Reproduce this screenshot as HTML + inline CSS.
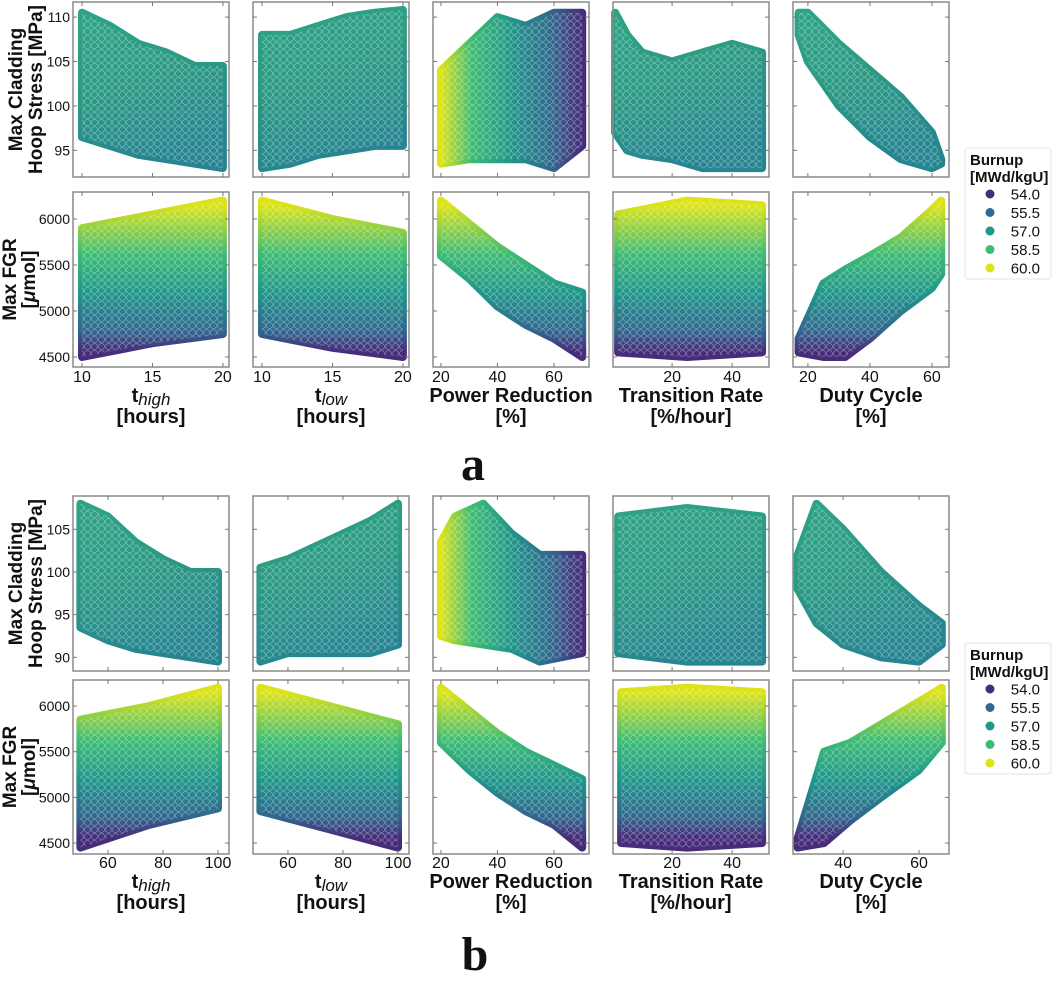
<!DOCTYPE html>
<html><head><meta charset="utf-8"><style>
body{margin:0;background:#fff;}
svg text{font-family:"Liberation Sans",sans-serif;}
svg text.serif{font-family:"Liberation Serif",serif;}
</style></head><body>
<svg id="fig" width="1052" height="979" viewBox="0 0 1052 979" xmlns="http://www.w3.org/2000/svg">
<defs>
<pattern id="dots" width="7" height="7" patternUnits="userSpaceOnUse">
<circle cx="3.5" cy="3.5" r="3" fill="none" stroke="#ffffff" stroke-opacity="0.35" stroke-width="0.8"/>
</pattern>
</defs>
</svg>
<script>
// ---------- data ----------
const burnupLevels = ["54.0","55.5","57.0","58.5","60.0"];
const burnupColors = ["#472c7a","#31688e","#1f968b","#3dbc74","#dde318"];

const xTitlesA = [["t","high","[hours]"],["t","low","[hours]"],["Power Reduction","","[%]"],["Transition Rate","","[%/hour]"],["Duty Cycle","","[%]"]];
const xTicksA = [[10,15,20],[10,15,20],[20,40,60],[20,40],[20,40,60]];
const xTicksB = [[60,80,100],[60,80,100],[20,40,60],[20,40],[40,60]];
const xDomA = [[9.36,20.43],[9.36,20.43],[17.2,72.4],[0.3,52.3],[15.2,65.5]];
const xDomB = [[47.3,104],[47.3,104],[17.2,72.4],[0.3,52.3],[26.8,67.9]];
const stressTicksA = [95,100,105,110];
const stressTicksB = [90,95,100,105];
const fgrTicks = [4500,5000,5500,6000];
const stressDomA = [92,111.7];
const stressDomB = [88.4,108.9];
const fgrDomA = [4391,6293];
const fgrDomB = [4380,6285];

// cloud envelopes: x knots, upper and lower bound
const a1x=[10,12,14,16,18,20], a1t=[110.5,109,107,106,104.5,104.5], a1b=[96.5,95.5,94.5,94,93.5,93];
const a2x=[10,12,14,16,18,20], a2t=[108,108,109,110,110.5,110.8], a2b=[93,93.5,94.5,95,95.5,95.5];
const a3x=[20,30,40,50,60,70], a3t=[104,107,110,109,110.5,110.5], a3b=[93.5,94,94,94,93,95.5];
const a4x=[1,5,10,20,30,40,50], a4t=[110.5,108,106,105,106,107,106], a4b=[97,95,94.5,94,93,93,93];
const a5x=[17,20,30,40,50,60,63], a5t=[110.5,110.5,107,104,101,97,94], a5b=[108,105,100,96.5,94,93,93.5];
const a6x=[10,15,20], a6t=[5900,6050,6200], a6b=[4500,4650,4750];
const a7x=[10,15,20], a7t=[6200,6000,5850], a7b=[4750,4600,4500];
const a8x=[20,30,40,50,60,70], a8t=[6200,5950,5700,5500,5300,5200], a8b=[5600,5350,5050,4850,4700,4500];
const a9x=[2,25,50], a9t=[6050,6200,6150], a9b=[4550,4500,4550];
const a10x=[17,25,32,40,50,60,63], a10t=[4700,5300,5450,5600,5800,6100,6200], a10b=[4550,4500,4500,4700,5000,5250,5400];

const b1x=[50,60,70,80,90,100], b1t=[108,106.5,103.5,101.5,100,100], b1b=[93.5,92,91,90.5,90,89.5];
const b2x=[50,60,70,80,90,100], b2t=[100.5,101.5,103,104.5,106,108], b2b=[89.5,90.5,90.5,90.5,90.5,91.5];
const b3x=[20,25,35,45,55,70], b3t=[103.5,106.5,108,104.5,102,102], b3b=[92.5,92,91.5,91,89.5,90.5];
const b4x=[2,25,50], b4t=[106.5,107.5,106.5], b4b=[90.5,89.5,89.5];
const b5x=[28,33,40,50,60,66], b5t=[102,108,105,100,96,94], b5b=[98,94,91.5,90,89.5,91.5];
const b6x=[50,75,100], b6t=[5850,6000,6200], b6b=[4450,4700,4880];
const b7x=[50,75,100], b7t=[6200,6000,5800], b7b=[4850,4650,4450];
const b8x=[20,30,40,50,60,70], b8t=[6200,5950,5700,5500,5350,5200], b8b=[5600,5300,5050,4850,4700,4450];
const b9x=[3,25,50], b9t=[6150,6200,6150], b9b=[4500,4450,4500];
const b10x=[28,35,42,50,60,66], b10t=[4550,5500,5600,5800,6050,6200], b10b=[4450,4500,4750,5000,5300,5600];

// ---------- layout ----------
const NS="http://www.w3.org/2000/svg";
const svg=document.getElementById('fig');
const defs=svg.querySelector('defs');
const colX=[73,253,433,613,793], PW=156;
let gid=0;
function mk(tag,attrs,parent){const e=document.createElementNS(NS,tag);for(const k in attrs)e.setAttribute(k,attrs[k]);(parent||svg).appendChild(e);return e;}
function lin(d,r){return v=>r[0]+(v-d[0])/(d[1]-d[0])*(r[1]-r[0]);}

function panel(fig,row,col,top,h,xd,yd,xs,ts,bs,mode){
  const L=colX[col],R=L+PW,B=top+h;
  const sx=lin(xd,[L,R]), sy=lin(yd,[B,top]);
  const g=mk('g',{});
  
  
  const id='gr'+(gid++);
  let gr;
  if(mode==='v'){
    gr=mk('linearGradient',{id:id,gradientUnits:'userSpaceOnUse',x1:0,x2:0,y1:sy(6150),y2:sy(4550)},defs);
    const st=[[0,4],[0.33,3],[0.6,2],[0.85,1],[1,0]];
    st.forEach(s=>mk('stop',{offset:s[0],'stop-color':burnupColors[s[1]]},gr));
  } else if(mode==='h'){
    gr=mk('linearGradient',{id:id,gradientUnits:'userSpaceOnUse',y1:0,y2:0,x1:sx(20),x2:sx(70)},defs);
    const st=[[0,4],[0.22,3],[0.5,2],[0.78,1],[1,0]];
    st.forEach(s=>mk('stop',{offset:s[0],'stop-color':burnupColors[s[1]]},gr));
  } else {
    gr=mk('linearGradient',{id:id,x1:0,x2:0.3,y1:0,y2:1},defs);
    mk('stop',{offset:0,'stop-color':'#2ea386'},gr);
    mk('stop',{offset:0.5,'stop-color':'#2b9a83'},gr);
    mk('stop',{offset:1,'stop-color':'#268591'},gr);
  }
  let d='';
  xs.forEach((x,i)=>{d+=(i?'L':'M')+sx(x).toFixed(1)+','+sy(ts[i]).toFixed(1);});
  for(let i=xs.length-1;i>=0;i--) d+='L'+sx(xs[i]).toFixed(1)+','+sy(bs[i]).toFixed(1);
  d+='Z';
  const cloud=mk('path',{d:d,fill:'url(#'+id+')',stroke:'url(#'+id+')','stroke-width':8,'stroke-linejoin':'round'},g);
  
  
  mk('path',{d:d,fill:'url(#dots)',stroke:'none'},g);
  const fr=mk('rect',{x:L,y:top,width:PW,height:h,fill:'none',stroke:'#8a8a8a','stroke-width':1.5},g);
  
  
  return {g,sx,sy,L,R,top,B};
}

function ticks(p,xt,yt,showY){
  xt.forEach(v=>{const x=p.sx(v);
    mk('line',{x1:x,x2:x,y1:p.B,y2:p.B-4,stroke:'#777'},p.g);
    mk('line',{x1:x,x2:x,y1:p.top,y2:p.top+4,stroke:'#777'},p.g);});
  yt.forEach(v=>{const y=p.sy(v);
    mk('line',{x1:p.L,x2:p.L+4,y1:y,y2:y,stroke:'#777'},p.g);
    mk('line',{x1:p.R,x2:p.R-4,y1:y,y2:y,stroke:'#777'},p.g);
    if(showY){const t=mk('text',{x:p.L-3,y:y+5,'text-anchor':'end','font-size':14,fill:'#111'},p.g);t.textContent=v;
      
      }
  });
}

function figure(fig,rows,xDom,xTicks,sTicks,sDom,fDom,stressSets,fgrSets,tickY,titleY){
  const modesS=['m','m','h','m','m'];
  stressSets.forEach((s,c)=>{const p=panel(fig,0,c,rows[0],rows[1],xDom[c],sDom,s[0],s[1],s[2],modesS[c]);ticks(p,xTicks[c],sTicks,c===0);});
  fgrSets.forEach((s,c)=>{const p=panel(fig,1,c,rows[2],rows[3],xDom[c],fDom,s[0],s[1],s[2],'v');ticks(p,xTicks[c],fgrTicks,c===0);
    xTicks[c].forEach(v=>{const t=mk('text',{x:p.sx(v),y:tickY,'text-anchor':'middle','font-size':16,fill:'#111'});t.textContent=v;
      
      });
    const tt=xTitlesA[c];const cx=colX[c]+PW/2;
    const t1=mk('text',{x:cx,y:titleY,'text-anchor':'middle','font-size':20,'font-weight':'bold',fill:'#111'});
    
    
    t1.textContent=tt[0];
    if(tt[1]){const sp=mk('tspan',{'font-style':'italic','font-weight':'normal','font-size':17,dy:3},t1);sp.textContent=tt[1];}
    const t2=mk('text',{x:cx,y:titleY+21,'text-anchor':'middle','font-size':20,'font-weight':'bold',fill:'#111'});
    
    
    t2.textContent=tt[2];
  });
  // y titles
  const ys=[[rows[0]+rows[1]/2,'Max Cladding','Hoop Stress [MPa]',22,42],[rows[2]+rows[3]/2,'Max FGR','[\u03bcmol]',16,35]];
  ys.forEach((y,i)=>{
    [[y[1],y[3]],[y[2],y[4]]].forEach((l,j)=>{
      const t=mk('text',{x:0,y:0,transform:'translate('+l[1]+','+y[0]+') rotate(-90)','text-anchor':'middle','font-size':19,'font-weight':'bold',fill:'#111'});
      
      
      if(i===1&&j===1){t.textContent='[';const m=mk('tspan',{'font-style':'italic'},t);m.textContent='\u03bc';t.appendChild(document.createTextNode('mol]'));}
      else t.textContent=l[0];
    });
  });
}

function legend(fig,top){
  const g=mk('g',{});
  
  
  mk('rect',{x:965,y:top,width:86,height:131,rx:3,fill:'#fff',stroke:'#e3e3e3'},g);
  const t1=mk('text',{x:970,y:top+17,'font-size':15,'font-weight':'bold',fill:'#111'},g);t1.textContent='Burnup';
  const t2=mk('text',{x:970,y:top+34,'font-size':15,'font-weight':'bold',fill:'#111'},g);t2.textContent='[MWd/kgU]';
  burnupLevels.forEach((lv,i)=>{
    const cy=top+46+i*18.5;
    const e=mk('g',{},g);
    
    
    mk('circle',{cx:990,cy:cy,r:4.5,fill:burnupColors[i]},e);
    const t=mk('text',{x:1040,y:cy+5.5,'text-anchor':'end','font-size':15,fill:'#111'},e);t.textContent=lv;
  });
}

figure('fig-a',[2,175,192,175],xDomA,xTicksA,stressTicksA,stressDomA,fgrDomA,
  [[a1x,a1t,a1b],[a2x,a2t,a2b],[a3x,a3t,a3b],[a4x,a4t,a4b],[a5x,a5t,a5b]],
  [[a6x,a6t,a6b],[a7x,a7t,a7b],[a8x,a8t,a8b],[a9x,a9t,a9b],[a10x,a10t,a10b]],382,402);
figure('fig-b',[496,175,680,174],xDomB,xTicksB,stressTicksB,stressDomB,fgrDomB,
  [[b1x,b1t,b1b],[b2x,b2t,b2b],[b3x,b3t,b3b],[b4x,b4t,b4b],[b5x,b5t,b5b]],
  [[b6x,b6t,b6b],[b7x,b7t,b7b],[b8x,b8t,b8b],[b9x,b9t,b9b],[b10x,b10t,b10b]],868,888);
legend('fig-a',148);
legend('fig-b',643);
const la=mk('text',{x:473,y:480,'text-anchor':'middle','font-size':48,'font-weight':'bold',fill:'#111','class':'serif'});


la.textContent='a';
const lb=mk('text',{x:475,y:970,'text-anchor':'middle','font-size':48,'font-weight':'bold',fill:'#111','class':'serif'});


lb.textContent='b';
</script>
</body></html>
